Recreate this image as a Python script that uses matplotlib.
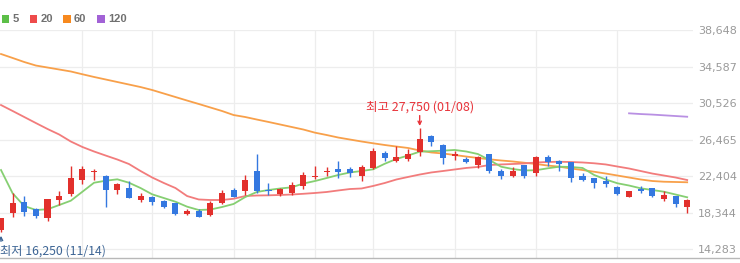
import numpy as np
import matplotlib.pyplot as plt
from matplotlib.patches import Rectangle
from matplotlib.lines import Line2D

# daily candles, left to right (first one is 11/14)
opens = [16400, 18360, 19530, 18740, 17730, 19790, 20460, 22030, 22850, 22480,
         20910, 21100, 19790, 20090, 19600, 19420, 18210, 18580, 18070, 19420,
         20910, 20720, 22960, 20910, 20460, 20540, 21280, 22290, 22850, 23230,
         23230, 22400, 23350, 25030, 24090, 24280, 25100, 26830, 25850, 24650,
         24360, 23600, 24840, 22960, 22480, 23600, 22780, 24580, 24050, 23970,
         22400, 22220, 21840, 21210, 20090, 20990, 21100, 19900, 20160, 19030]
highs = [17800, 20540, 20240, 18850, 19900, 20720, 23530, 23530, 23230, 22500,
         21660, 21840, 20540, 20240, 19710, 19450, 18740, 18740, 19670, 20830,
         21100, 22590, 24840, 21660, 21100, 21730, 22850, 23530, 23460, 24090,
         23460, 23600, 25590, 25210, 25770, 25480, 27750, 26970, 25960, 25210,
         24540, 24650, 24840, 23230, 23460, 23600, 24650, 24730, 24200, 23970,
         22710, 22220, 22400, 21280, 20740, 21360, 21100, 20720, 20160, 19860]
lows = [16250, 17910, 17990, 17730, 17460, 19220, 20240, 21550, 21950, 19030,
        20430, 19980, 19530, 19220, 18920, 18070, 18100, 17840, 17990, 19330,
        20090, 20350, 20540, 20350, 20160, 20270, 21020, 22140, 22400, 22220,
        22290, 21840, 23160, 24090, 23970, 24090, 24650, 25770, 23720, 24200,
        23830, 23350, 22710, 22110, 22340, 22220, 22480, 23530, 22960, 21730,
        21840, 21100, 21170, 20350, 20060, 20540, 20090, 19600, 18970, 18360]
closes = [17760, 19480, 18470, 17990, 19860, 20240, 22220, 23230, 22960, 20910,
          21550, 19980, 20240, 19530, 19030, 18180, 18550, 17910, 19420, 20540,
          20090, 21950, 20720, 20760, 20990, 21470, 22590, 22480, 22960, 22850,
          22710, 23460, 25210, 24470, 24580, 24840, 26520, 26150, 24470, 24840,
          23970, 24580, 22960, 22400, 22960, 22400, 24580, 23970, 23800, 22220,
          22030, 21660, 21580, 20460, 20720, 20720, 20160, 20350, 19340, 19790]

# moving averages
ma5 = [23090, 20500, 19090, 18650, 18730, 19200, 19680, 20680, 21680, 21900,
       22060, 21680, 21090, 20390, 19980, 19570, 19020, 18650, 18700, 18980,
       19320, 20090, 20650, 20870, 21040, 21170, 21590, 21870, 22200, 22540,
       22820, 22980, 23170, 23790, 24320, 24700, 25130, 25180, 25240, 25320,
       25150, 24870, 24200, 23460, 23200, 23040, 23070, 23280, 23460, 23430,
       23320, 22540, 22040, 21620, 21370, 21060, 20870, 20680, 20370, 20060]
ma20 = [30310, 29650, 28980, 28310, 27650, 27040, 26260, 25650, 25150, 24700,
        24260, 23760, 22980, 22260, 21650, 21090, 20200, 19820, 19760, 19760,
        19900, 20200, 20260, 20280, 20320, 20370, 20450, 20540, 20650, 20820,
        20980, 21040, 21320, 21650, 22040, 22320, 22590, 22820, 22980, 23150,
        23320, 23430, 23650, 23710, 23760, 23820, 23930, 23980, 24010, 23980,
        23930, 23840, 23710, 23480, 23260, 22980, 22700, 22480, 22260, 21980]
ma60 = [35980, 35540, 35090, 34700, 34480, 34260, 34040, 33730, 33430, 33150,
        32870, 32590, 32310, 31980, 31590, 31200, 30810, 30430, 30040, 29650,
        29200, 28980, 28700, 28430, 28150, 27870, 27590, 27240, 26980, 26700,
        26480, 26260, 26060, 25870, 25700, 25540, 25260, 25040, 24930, 24760,
        24590, 24430, 24280, 24150, 24040, 23900, 23760, 23590, 23460, 23260,
        23090, 22900, 22700, 22480, 22260, 22040, 21870, 21790, 21760, 21730]
ma120 = [29390, 29310, 29250, 29170, 29090, 29010]  # last 6 days only

hi_date = '01/08'
lo_date = '11/14'

yticks = [14283, 18344, 22404, 26465, 30526, 34587, 38648]
month_lines = [7, 13, 20, 27, 32, 39, 46, 53]

legend_names = ['5', '20', '60', '120']
legend_colors = ['#5cbf48', '#ee4b4b', '#f7891e', '#a262d6']
ma_colors = ['#86cf72', '#f27c7c', '#f8a04a', '#b990e3']

up_color = '#e2302c'
down_color = '#3478e0'
kfont = ['Noto Sans CJK KR', 'DejaVu Sans']

W, H = 740, 263
fig = plt.figure(figsize=(W / 100, H / 100), dpi=100)
ax_top, ax_bot = 29.5, 258.3
ax = fig.add_axes([0, 1 - ax_bot / H, 693 / W, (ax_bot - ax_top) / H])

n = len(closes)
idx = np.arange(n)
o = np.array(opens)
c = np.array(closes)

# moving average lines under the candles
ax.plot(idx, ma60, color=ma_colors[2], lw=1.3, zorder=2)
ax.plot(idx, ma20, color=ma_colors[1], lw=1.3, zorder=2)
ax.plot(idx, ma5, color=ma_colors[0], lw=1.3, zorder=2)
ax.plot(idx[n - len(ma120):], ma120, color=ma_colors[3], lw=1.3, zorder=2)

# candles
cols = np.where(c >= o, up_color, down_color)
body_h = np.maximum(np.abs(c - o), 110)
ax.vlines(idx, lows, highs, colors=cols, lw=1.0, zorder=3)
ax.bar(idx, body_h, bottom=np.minimum(o, c), width=0.52, color=cols, lw=0, zorder=4)

ax.set_xlim(-0.086, 59.5)
ax.set_ylim(13283, 38703)

ax.yaxis.tick_right()
ax.set_yticks(yticks)
ax.set_yticklabels([f'{v:,}' for v in yticks], fontsize=8, color='#9a9a9a')
ax.set_xticks(month_lines)
ax.set_xticklabels([])
ax.tick_params(length=0)
ax.tick_params(axis='y', pad=3.6)
ax.grid(color='#ededed', lw=0.9, zorder=0)
for s in ax.spines.values():
    s.set_visible(False)

# bottom baseline across the whole figure
fig.add_artist(Line2D([0, 1], [1 - ax_bot / H] * 2, transform=fig.transFigure,
                      color='#b8b8b8', lw=1))

# high / low marks
hi_i = int(np.argmax(highs))
lo_i = int(np.argmin(lows))
ax.annotate('', xy=(hi_i, highs[hi_i]), xytext=(0, 9), textcoords='offset points',
            arrowprops=dict(arrowstyle='->', color='#e8333a', lw=1, shrinkA=0, shrinkB=1.5,
                            mutation_scale=6), zorder=5)
ax.annotate(f'최고 {highs[hi_i]:,} ({hi_date})', xy=(hi_i, highs[hi_i]), xytext=(0, 15),
            textcoords='offset points', ha='center', va='center', fontsize=9,
            color='#e8333a', family=kfont, annotation_clip=False)
ax.annotate('', xy=(lo_i, lows[lo_i]), xytext=(0, -7), textcoords='offset points',
            arrowprops=dict(arrowstyle='->', color='#3d6595', lw=1, shrinkA=0, shrinkB=3,
                            mutation_scale=6), zorder=5, annotation_clip=False)
ax.annotate(f'최저 {lows[lo_i]:,} ({lo_date})', xy=(lo_i, lows[lo_i]), xytext=(-0.4, -14),
            textcoords='offset points', ha='left', va='center', fontsize=8.8,
            color='#3d6595', family=kfont, annotation_clip=False)

# legend on top
lx = [1.5, 29.5, 63, 97]
for x0, name, col in zip(lx, legend_names, legend_colors):
    fig.add_artist(Rectangle((x0 / W, 1 - 22.5 / H), 7.5 / W, 7.5 / H,
                             transform=fig.transFigure, color=col, lw=0))
    fig.text((x0 + 11) / W, 1 - 18.8 / H, name, fontsize=8, fontweight='bold',
             color='#707070', va='center', ha='left', family='Liberation Sans')

fig.savefig('out.png', dpi=100)
